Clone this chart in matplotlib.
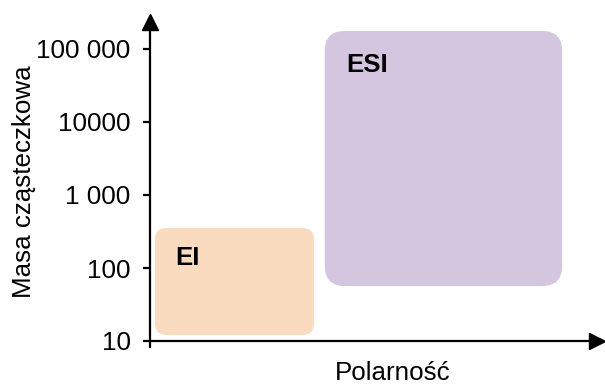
import matplotlib
matplotlib.use("Agg")
import matplotlib.pyplot as plt
from matplotlib.patches import FancyBboxPatch
from matplotlib.transforms import IdentityTransform

plt.rcParams["font.family"] = ["Liberation Sans", "DejaVu Sans"]

# ionisation regions: polarity range (0-100) and molecular mass range
regions = ["EI", "ESI"]
polar_lo = [1.1, 39.1]
polar_hi = [36.7, 92.2]
mass_lo = [12.1, 56.6]
mass_hi = [353, 176500]
label_x = [5.6, 43.8]
label_y = [110, 48400]
colors = ["#fadbbf", "#d4c6de"]
radius_px = [12, 20]

yticks = [10, 100, 1000, 10000, 100000]
yticklabels = ["10", "100", "1 000", "10000", "100 000"]

W, H, DPI = 605, 385, 100
fig = plt.figure(figsize=(W / DPI, H / DPI), dpi=DPI)
left, right, bottom, top = 150, 597, 341, 22
ax = fig.add_axes([left / W, (H - bottom) / H, (right - left) / W,
                   (bottom - top) / H])
ax.set_yscale("log")
ax.set_xlim(0, 100)
ax.set_ylim(10, 10 ** (1 + (bottom - top) / 73))

for sp in ("top", "right"):
    ax.spines[sp].set_visible(False)
for sp in ("left", "bottom"):
    ax.spines[sp].set_linewidth(1.6)

ax.set_yticks(yticks)
ax.set_yticklabels(yticklabels)
ax.yaxis.set_minor_locator(matplotlib.ticker.NullLocator())
ax.set_xticks([0])
ax.set_xticklabels([""])
ax.tick_params(axis="both", direction="out", length=5, width=1.6,
               labelsize=18.7, pad=9)

# arrow heads on both axes
ax.plot([0], [1], marker="^", markersize=12, color="black",
        transform=ax.transAxes, clip_on=False)
ax.plot([1], [0], marker=">", markersize=12, color="black",
        transform=ax.transAxes, clip_on=False)

# rounded boxes, drawn in pixel space so corners stay circular on log axis
for name, x0, x1, y0, y1, c, r, tx, ty in zip(regions, polar_lo, polar_hi,
                                               mass_lo, mass_hi, colors,
                                               radius_px, label_x, label_y):
    (px0, py0), (px1, py1) = ax.transData.transform([(x0, y0), (x1, y1)])
    box = FancyBboxPatch((px0, py0), px1 - px0, py1 - py0,
                         boxstyle=f"round,pad=0,rounding_size={r}",
                         facecolor=c, edgecolor="none",
                         transform=IdentityTransform(), zorder=-1)
    fig.patches.append(box)
    ax.text(tx, ty, name, fontsize=18.5, fontweight="bold", va="baseline",
            ha="left", zorder=3)

ax.set_facecolor("none")
ax.set_ylabel("Masa cząsteczkowa", fontsize=18.7)
ax.yaxis.set_label_coords(-0.255, 0.498)
ax.set_xlabel("Polarność", fontsize=18.7)
ax.xaxis.set_label_coords(0.544, -0.064)

fig.savefig("out.png", dpi=DPI)
